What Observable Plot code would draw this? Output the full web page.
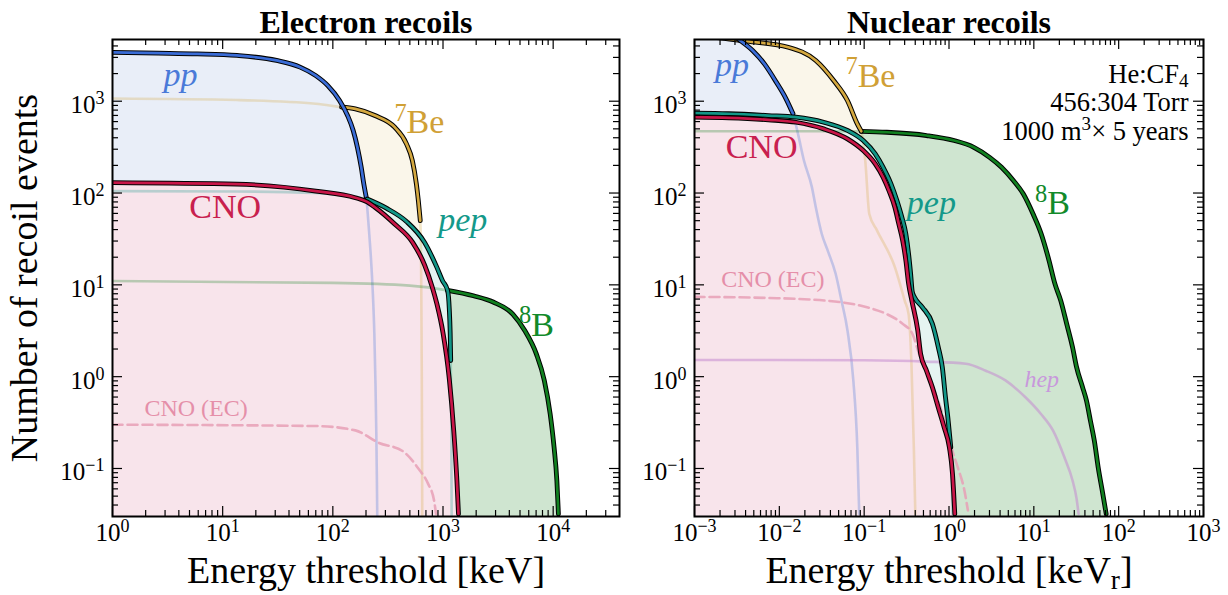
<!DOCTYPE html>
<html><head><meta charset="utf-8">
<script src="https://cdn.jsdelivr.net/npm/d3@7"></script>
<script src="https://cdn.jsdelivr.net/npm/@observablehq/plot@0.6"></script>
<style>
body{margin:0;background:#fff;}
#wrap{position:relative;width:1228px;height:595px;background:#fff;}
#wrap svg{position:absolute;top:0;}
</style></head><body><div id="wrap"></div>
<script>
// ---------- axes / ticks ----------
const Y_DOMAIN = [0.03, 4700];
const Y_MAJOR = [0.1, 1, 10, 100, 1000];
const Y_LABELS = ["10^{\u22121}", "10^{0}", "10^{1}", "10^{2}", "10^{3}"];
const ER_X_DOMAIN = [1, 4e4];
const ER_X_MAJOR = [1, 10, 100, 1000, 10000];
const ER_X_LABELS = ["10^{0}", "10^{1}", "10^{2}", "10^{3}", "10^{4}"];
const NR_X_DOMAIN = [1e-3, 1e3];
const NR_X_MAJOR = [1e-3, 1e-2, 1e-1, 1, 10, 100, 1000];
const NR_X_LABELS = ["10^{\u22123}", "10^{\u22122}", "10^{\u22121}", "10^{0}", "10^{1}", "10^{2}", "10^{3}"];

// ---------- Electron recoils: [threshold keV, events] ----------
const erPP = [[1,3400],[2.6,3340],[5.9,3280],[13.5,3150],[30.8,2780],[50.5,2350],[70,1900],[90,1480],[115,1020],[136,700],[153,480],[167,316],[181,191],[191,126],[201,90],[214,36],[224,16],[232,7],[238,3],[244,0.8],[248,0.25],[251,0.08],[253,0.03]];
const erBe7 = [[1,1070],[13.5,1030],[70,940],[120,861],[160,826],[241,698],[364,521],[466,343],[527,226],[573,126],[597,83],[622,50],[630,30],[637,5],[642,1],[645,0.2],[648,0.03]];
const erPep = [[1,105],[13.5,104],[70,100],[160,90],[205,86],[309,68],[466,49],[680,29],[870,16],[990,11.1],[1100,8.7],[1140,5.5],[1162,3],[1175,1.5],[1185,0.6],[1192,0.2],[1198,0.03]];
const erCNO = [[1,130],[13.5,125],[70,105],[160,89],[205,80],[241,70],[364,46],[530,29],[680,16.5],[800,9.4],[880,6.2],[1000,3],[1140,0.95],[1251,0.26],[1337,0.074],[1382,0.032]];
const erB8 = [[1,11],[100,10.5],[500,9.8],[1100,8.7],[1888,7.6],[2852,6.5],[4297,4.8],[5500,3.2],[7031,1.77],[8310,0.91],[9400,0.39],[10190,0.17],[10800,0.074],[11160,0.032]];
const erCNOEC = [[1,0.30],[70,0.29],[160,0.26],[262,0.19],[430,0.155],[597,0.10],[733,0.068],[829,0.045],[865,0.032]];
const erBoldPP = [1, 201], erBoldBe7 = [120, 622], erBoldPep = [165, 1180], erBoldB8 = [1100, 2e4];

// ---------- Nuclear recoils: [threshold keVr, events] ----------
const nrPP = [[0.001,9000],[0.002,6500],[0.00333,4700],[0.00484,3565],[0.00667,2553],[0.00922,1610],[0.012,1062],[0.0145,729],[0.0166,441],[0.0195,226],[0.0242,116],[0.0269,70],[0.0316,36],[0.0372,23.6],[0.0461,13.2],[0.0541,6.7],[0.0635,3.2],[0.0746,0.9],[0.083,0.17],[0.0875,0.032]];
const nrBe7 = [[0.001,5200],[0.002,4900],[0.00412,4500],[0.0127,3875],[0.0269,2775],[0.0437,1680],[0.0635,1017],[0.083,567],[0.0925,471],[0.103,226],[0.115,59],[0.142,39],[0.23,15.6],[0.301,6.7],[0.334,4.8],[0.361,1.38],[0.385,0.17],[0.401,0.032]];
const nrPep = [[0.001,740],[0.00254,730],[0.00744,698],[0.0157,670],[0.0333,590],[0.0635,480],[0.0976,373],[0.135,267],[0.167,191],[0.207,126],[0.243,83],[0.279,54],[0.31,36],[0.334,21.7],[0.353,13.2],[0.369,8.4],[0.393,7.3],[0.486,5.7],[0.637,3.76],[0.748,2.09],[0.834,1.27],[0.908,0.6],[0.979,0.33],[1.05,0.17],[1.10,0.032]];
const nrCNO = [[0.001,670],[0.00254,659],[0.00744,627],[0.0157,590],[0.0333,500],[0.0635,389],[0.0976,290],[0.135,208],[0.167,149],[0.196,106],[0.23,70],[0.256,46],[0.285,30],[0.31,18.4],[0.334,10.3],[0.365,6.7],[0.428,3.2],[0.463,1.77],[0.543,1.16],[0.637,0.766],[0.748,0.46],[0.877,0.28],[1.01,0.17],[1.10,0.087],[1.17,0.032]];
const nrB8 = [[0.001,470],[0.03,470],[0.0925,469],[0.185,459],[0.543,423],[1.15,373],[1.96,315],[3.01,245],[4.16,191],[5.74,137],[7.5,98],[9.8,59],[12.2,36],[15.1,18.4],[17.7,10.3],[20.8,6.7],[24.4,3.76],[28.6,2.09],[31.9,1.27],[37.5,0.77],[41.7,0.55],[46.5,0.33],[51.7,0.2],[57.6,0.1],[64.1,0.057],[71.3,0.032]];
const nrHep = [[0.001,1.52],[0.1,1.51],[0.543,1.46],[1.58,1.38],[2.71,1.16],[4.63,0.91],[7.9,0.6],[12.2,0.39],[16.8,0.26],[23.1,0.13],[28.6,0.074],[31.9,0.047],[33.7,0.032]];
const nrCNOEC = [[0.001,7.4],[0.00744,7.2],[0.0372,6.7],[0.108,5.7],[0.185,4.8],[0.285,3.76],[0.372,2.9],[0.45,1.7],[0.6,0.9],[0.8,0.45],[1.0,0.22],[1.09,0.16],[1.28,0.10],[1.5,0.061],[1.67,0.035]];
const nrBoldPP = [0.001, 0.0145], nrBoldBe7 = [0.001, 0.0925], nrBoldPep = [0.001, 1.05], nrBoldB8 = [0.0925, 100];
const nrBoxLines = ["He:CF_{4}", "456:304 Torr", "1000 m^{3}\u00d7 5 years"];

// ---------- styles ----------
const FONT = "'Liberation Serif', 'DejaVu Serif', serif";
const C = {pp:"#3a6cd6", be7:"#d4a840", pep:"#129687", cno:"#c81648", b8:"#118020", hep:"#c48ad0", ec:"#e8a0b6"};
const F = {pp:"#e9eef8", be7:"#faf6ea", pep:"#e5f4f1", cno:"#f8e4eb", b8:"#cfe5d0"};
const L = {pp:"#4a7ad8", be7:"#d0a035", pep:"#14998a", cno:"#c8204e", b8:"#128a2a", ec:"#e58fa9", hep:"#c898dc"};

function minorTicks(domain) {
  const out = [];
  const lo = Math.floor(Math.log10(domain[0]) + 1e-9), hi = Math.ceil(Math.log10(domain[1]) - 1e-9);
  for (let e = lo; e < hi; e++) for (let m = 2; m <= 9; m++) {
    const v = m * Math.pow(10, e);
    if (v > domain[0] * 1.0001 && v < domain[1] * 0.9999) out.push(v);
  }
  return out;
}

function panel(cfg) {
  const H = 595, mt = 39, mb = 79;
  const fw = cfg.width - cfg.ml - cfg.mr, fh = H - mt - mb;
  const X = d => d[0], Y = d => d[1];
  const marks = [];
  for (const f of cfg.fills)
    marks.push(Plot.areaY(f.data.filter(d => d[0] >= f.from), {x: X, y1: () => 0.001, y2: Y, fill: f.fill, curve: "monotone-x", clip: true}));
  for (const c of cfg.faded)
    marks.push(Plot.line(c.data, {x: X, y: Y, stroke: c.color, strokeOpacity: c.opacity ?? 0.28, strokeWidth: 2.6, strokeDasharray: c.dash, curve: "monotone-x", clip: true}));
  for (const b of cfg.bold) {
    const seg = b.data.filter(d => d[0] >= b.range[0] && d[0] <= b.range[1]);
    marks.push(Plot.line(seg, {x: X, y: Y, stroke: "black", strokeWidth: 4.8, curve: "monotone-x", clip: true}));
    marks.push(Plot.line(seg, {x: X, y: Y, stroke: b.color, strokeWidth: 2.7, curve: "monotone-x", clip: true}));
  }
  // ticks (inward, all four sides)
  const xMinor = minorTicks(cfg.xDomain), yMinor = minorTicks(Y_DOMAIN);
  const tk = {stroke: "black", strokeWidth: 1.2};
  marks.push(Plot.tickX(cfg.xMajor, {x: d => d, insetTop: fh - 10, ...tk}));
  marks.push(Plot.tickX(cfg.xMajor, {x: d => d, insetBottom: fh - 10, ...tk}));
  marks.push(Plot.tickX(xMinor, {x: d => d, insetTop: fh - 6, ...tk}));
  marks.push(Plot.tickX(xMinor, {x: d => d, insetBottom: fh - 6, ...tk}));
  marks.push(Plot.tickY(Y_MAJOR, {y: d => d, insetRight: fw - 10, ...tk}));
  marks.push(Plot.tickY(Y_MAJOR, {y: d => d, insetLeft: fw - 10, ...tk}));
  marks.push(Plot.tickY(yMinor, {y: d => d, insetRight: fw - 6, ...tk}));
  marks.push(Plot.tickY(yMinor, {y: d => d, insetLeft: fw - 6, ...tk}));
  marks.push(Plot.frame({stroke: "black", strokeWidth: 2}));
  // tick labels
  marks.push(Plot.text(cfg.xMajor, {x: d => d, text: (d, i) => cfg.xLabels[i], frameAnchor: "bottom", dy: 16, textAnchor: "middle", lineAnchor: "middle", fontSize: 25}));
  marks.push(Plot.text(Y_MAJOR, {y: d => d, text: (d, i) => Y_LABELS[i], frameAnchor: "left", dx: -8, dy: 4, textAnchor: "end", lineAnchor: "middle", fontSize: 25}));
  // titles / axis labels
  marks.push(Plot.text([cfg.title], {text: d => d, frameAnchor: "top", dy: -7, textAnchor: "middle", lineAnchor: "bottom", fontSize: 32, fontWeight: "bold"}));
  marks.push(Plot.text([cfg.xlabel], {text: d => d, frameAnchor: "bottom", dy: 66, textAnchor: "middle", lineAnchor: "bottom", fontSize: 38}));
  if (cfg.ylabel) marks.push(Plot.text([cfg.ylabel], {text: d => d, frameAnchor: "left", dx: -76, rotate: -90, textAnchor: "middle", lineAnchor: "bottom", fontSize: 38}));
  // curve labels
  for (const l of cfg.labels)
    marks.push(Plot.text([l], {x: d => d.x, y: d => d.y, text: d => d.text, fill: l.color, fontSize: l.size, fontStyle: l.italic ? "italic" : "normal", textAnchor: "start", lineAnchor: "bottom"}));
  (cfg.box || []).forEach((s, i) => marks.push(Plot.text([s], {text: d => d, frameAnchor: "top-right", dx: -15, dy: 43 + 28.5 * i, textAnchor: "end", lineAnchor: "bottom", fontSize: 26.5})));
  return Plot.plot({
    width: cfg.width, height: H, marginLeft: cfg.ml, marginRight: cfg.mr, marginTop: mt, marginBottom: mb,
    x: {type: "log", domain: cfg.xDomain, axis: null},
    y: {type: "log", domain: Y_DOMAIN, axis: null},
    style: {fontFamily: FONT, background: "transparent", overflow: "visible"},
    marks
  });
}

const left = panel({
  width: 640, ml: 112, mr: 21, xDomain: ER_X_DOMAIN, xMajor: ER_X_MAJOR, xLabels: ER_X_LABELS,
  title: "Electron recoils", xlabel: "Energy threshold [keV]", ylabel: "Number of recoil events",
  fills: [{data: erBe7, from: 120, fill: F.be7}, {data: erPP, from: 0, fill: F.pp}, {data: erB8, from: 1100, fill: F.b8}, {data: erPep, from: 165, fill: F.pep}, {data: erCNO, from: 0, fill: F.cno}],
  faded: [{data: erPP, color: C.pp}, {data: erBe7, color: C.be7}, {data: erPep, color: C.pep}, {data: erB8, color: C.b8}, {data: erCNOEC, color: C.ec, opacity: 0.85, dash: "10,5"}],
  bold: [{data: erB8, range: erBoldB8, color: C.b8}, {data: erBe7, range: erBoldBe7, color: C.be7}, {data: erPP, range: erBoldPP, color: C.pp}, {data: erPep, range: erBoldPep, color: C.pep}, {data: erCNO, range: [0, 1e9], color: C.cno}],
  labels: [
    {text: "pp", x: 2.9, y: 1480, color: L.pp, size: 34, italic: true},
    {text: "^{7}Be", x: 362, y: 448, color: L.be7, size: 34},
    {text: "CNO", x: 4.97, y: 53, color: L.cno, size: 34},
    {text: "pep", x: 905, y: 39, color: L.pep, size: 34, italic: true},
    {text: "^{8}B", x: 4887, y: 2.8, color: L.b8, size: 34},
    {text: "CNO (EC)", x: 1.95, y: 0.377, color: L.ec, size: 24}
  ]
});
const right = panel({
  width: 588, ml: 54, mr: 25, xDomain: NR_X_DOMAIN, xMajor: NR_X_MAJOR, xLabels: NR_X_LABELS,
  title: "Nuclear recoils", xlabel: "Energy threshold [keV_{r}]",
  fills: [{data: nrBe7, from: 0, fill: F.be7}, {data: nrPP, from: 0, fill: F.pp}, {data: nrB8, from: 0.0925, fill: F.b8}, {data: nrPep, from: 0, fill: F.pep}, {data: nrCNO, from: 0, fill: F.cno}],
  faded: [{data: nrPP, color: C.pp}, {data: nrBe7, color: C.be7}, {data: nrPep, color: C.pep}, {data: nrB8, color: C.b8}, {data: nrHep, color: C.hep, opacity: 0.55}, {data: nrCNOEC, color: C.ec, opacity: 0.85, dash: "10,5"}],
  bold: [{data: nrB8, range: nrBoldB8, color: C.b8}, {data: nrBe7, range: nrBoldBe7, color: C.be7}, {data: nrPP, range: nrBoldPP, color: C.pp}, {data: nrPep, range: nrBoldPep, color: C.pep}, {data: nrCNO, range: [0, 1e9], color: C.cno}],
  labels: [
    {text: "pp", x: 0.00175, y: 1905, color: L.pp, size: 34, italic: true},
    {text: "^{7}Be", x: 0.0601, y: 1445, color: L.be7, size: 34},
    {text: "CNO", x: 0.00233, y: 242, color: L.cno, size: 34},
    {text: "pep", x: 0.318, y: 59, color: L.pep, size: 34, italic: true},
    {text: "^{8}B", x: 10.3, y: 59, color: L.b8, size: 34},
    {text: "CNO (EC)", x: 0.00206, y: 9.4, color: L.ec, size: 24},
    {text: "hep", x: 7.75, y: 0.766, color: L.hep, size: 24, italic: true}
  ],
  box: nrBoxLines
});

const wrap = document.getElementById("wrap");
left.style.left = "0px"; right.style.left = "640px";
wrap.appendChild(left); wrap.appendChild(right);

// superscript / subscript markup -> tspans
function richText(root) {
  const NS = "http://www.w3.org/2000/svg";
  root.querySelectorAll("text").forEach(t => {
    const s = t.textContent;
    if (!/[\^_]\{/.test(s)) return;
    const fs = parseFloat(getComputedStyle(t).fontSize) || 16;
    const parts = []; const re = /([\^_])\{([^}]*)\}/g; let last = 0, m;
    while ((m = re.exec(s))) { if (m.index > last) parts.push({t: s.slice(last, m.index)}); parts.push({t: m[2], k: m[1]}); last = re.lastIndex; }
    if (last < s.length) parts.push({t: s.slice(last)});
    while (t.firstChild) t.removeChild(t.firstChild);
    let off = 0;
    for (const p of parts) {
      const ts = document.createElementNS(NS, "tspan");
      let target = 0;
      if (p.k === "^") { target = -0.36 * fs; ts.setAttribute("font-size", 0.72 * fs); }
      else if (p.k === "_") { target = 0.18 * fs; ts.setAttribute("font-size", 0.72 * fs); }
      ts.setAttribute("dy", target - off); off = target;
      ts.textContent = p.t;
      t.appendChild(ts);
    }
  });
}
richText(wrap);
</script></body></html>
